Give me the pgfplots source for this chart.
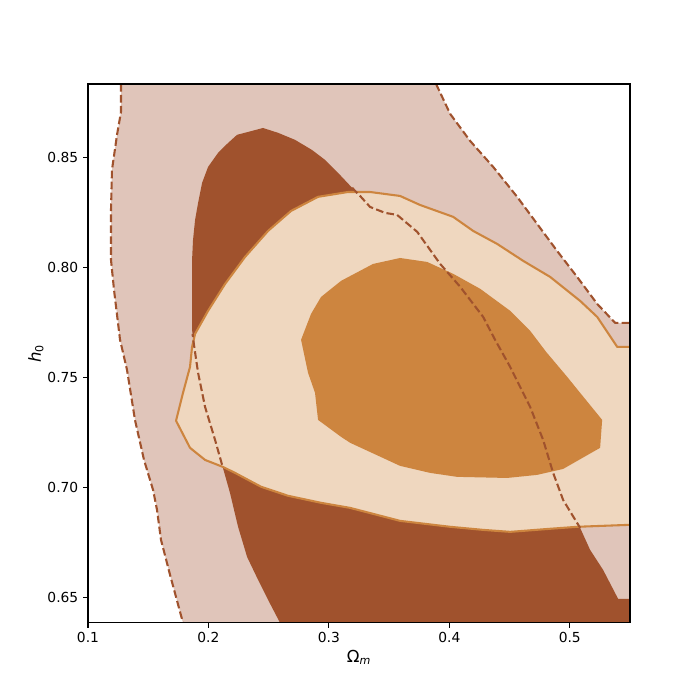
\documentclass[border=0pt]{standalone}
\usepackage{pgfplots}
\pgfplotsset{compat=1.18}
\usepackage{fontspec}
\setmainfont{DejaVu Sans}
\definecolor{sienna}{RGB}{160,82,45}
\definecolor{peru}{RGB}{205,133,63}
\definecolor{lsienna}{RGB}{224,197,186}
\definecolor{lperu}{RGB}{239,215,191}
\begin{document}
\begin{tikzpicture}
\begin{axis}[name=ax,
  scale only axis, width=391.7pt, height=389.5pt,
  xmin=0.1, xmax=0.55, ymin=0.6386, ymax=0.8836,
  axis line style={line width=0.8pt},
  tick align=outside, tick pos=left, major tick length=3.5pt,
  every tick/.style={black, line width=0.8pt},
  xtick={0.1,0.2,0.3,0.4,0.5}, xticklabels={0.1,0.2,0.3,0.4,0.5},
  ytick={0.65,0.70,0.75,0.80,0.85}, yticklabels={0.65,0.70,0.75,0.80,0.85},
  ticklabel style={font=\fontsize{10}{12}\selectfont},
  xlabel={Ω\textsubscript{\itshape m}}, ylabel={{\itshape h}\textsubscript{0}},
  label style={font=\fontsize{12}{14}\selectfont},
  xlabel style={yshift=2pt}, ylabel style={yshift=-4pt},
  clip=true, axis on top=true,
]
% outer brown (2 sigma) fill
\addplot[draw=none, fill=lsienna] coordinates {
(0.1274,0.8836) (0.1274,0.8709) (0.1241,0.8605) (0.1199,0.8445) (0.1191,0.8264)
(0.1191,0.8036) (0.1216,0.7900) (0.1266,0.7673) (0.1324,0.7536) (0.1390,0.7309)
(0.1465,0.7127) (0.1540,0.6991) (0.1573,0.6900) (0.1606,0.6764) (0.1681,0.6605)
(0.1789,0.6386) (0.55,0.6386) (0.55,0.7750) (0.5377,0.7750) (0.5228,0.7836)
(0.5061,0.7959) (0.4895,0.8077) (0.4729,0.8200) (0.4563,0.8323) (0.4364,0.8459)
(0.4173,0.8577) (0.4007,0.8700) (0.3890,0.8836)} -- cycle;
% inner brown (1 sigma) fill
\addplot[draw=none, fill=sienna] coordinates {
(0.2595,0.6386) (0.2495,0.6491) (0.2412,0.6582) (0.2321,0.6686) (0.2246,0.6823)
(0.2179,0.6977) (0.2113,0.7105) (0.2055,0.7218) (0.1972,0.7368) (0.1914,0.7523)
(0.1880,0.7650) (0.1864,0.7718) (0.1864,0.7855) (0.1864,0.8036) (0.1872,0.8127)
(0.1889,0.8218) (0.1914,0.8295) (0.1947,0.8386) (0.1997,0.8459) (0.2080,0.8523)
(0.2163,0.8568) (0.2238,0.8605) (0.2329,0.8618) (0.2453,0.8636) (0.2578,0.8614)
(0.2719,0.8582) (0.2860,0.8536) (0.2968,0.8491) (0.3076,0.8432) (0.3193,0.8364)
(0.3259,0.8327) (0.3342,0.8277) (0.3467,0.8250) (0.3566,0.8241) (0.3733,0.8164)
(0.3924,0.8018) (0.4090,0.7914) (0.4281,0.7777) (0.4380,0.7673) (0.4505,0.7550)
(0.4671,0.7368) (0.4779,0.7218) (0.4862,0.7068) (0.4945,0.6945) (0.5086,0.6818)
(0.5169,0.6718) (0.5277,0.6627) (0.5402,0.6495) (0.55,0.6495) (0.55,0.6386)} -- cycle;
% outer orange (2 sigma) fill
\addplot[draw=none, fill=lperu] coordinates {
(0.1864,0.7641) (0.1889,0.7700) (0.1997,0.7805) (0.2138,0.7927) (0.2304,0.8050)
(0.2495,0.8168) (0.2686,0.8259) (0.2910,0.8323) (0.3159,0.8345) (0.3342,0.8345)
(0.3591,0.8327) (0.3757,0.8286) (0.4032,0.8232) (0.4198,0.8168) (0.4397,0.8109)
(0.4613,0.8032) (0.4837,0.7959) (0.5086,0.7850) (0.5228,0.7777) (0.5394,0.7641)
(0.55,0.7641) (0.55,0.6832) (0.5061,0.6823) (0.4837,0.6814) (0.4505,0.6800)
(0.4281,0.6809) (0.4007,0.6823) (0.3591,0.6850) (0.3176,0.6909) (0.2935,0.6932)
(0.2661,0.6964) (0.2437,0.7005) (0.2221,0.7068) (0.2121,0.7095) (0.1972,0.7127)
(0.1847,0.7182) (0.1731,0.7305) (0.1789,0.7432) (0.1847,0.7550)} -- cycle;
% inner orange (1 sigma) fill
\addplot[draw=none, fill=peru] coordinates {
(0.2769,0.7673) (0.2852,0.7791) (0.2935,0.7868) (0.3101,0.7941) (0.3367,0.8018)
(0.3591,0.8045) (0.3816,0.8027) (0.4032,0.7973) (0.4256,0.7905) (0.4505,0.7805)
(0.4671,0.7714) (0.4804,0.7618) (0.4978,0.7505) (0.5086,0.7432) (0.5269,0.7309)
(0.5252,0.7182) (0.4945,0.7086) (0.4729,0.7059) (0.4480,0.7045) (0.4065,0.7050)
(0.3841,0.7068) (0.3591,0.7100) (0.3176,0.7205) (0.3101,0.7232) (0.2910,0.7309)
(0.2885,0.7432) (0.2827,0.7523)} -- cycle;
% orange outer contour line
\addplot[color=peru, line width=1.5pt, line join=round] coordinates {
(0.55,0.7641) (0.5394,0.7641) (0.5228,0.7777) (0.5086,0.7850) (0.4837,0.7959)
(0.4613,0.8032) (0.4397,0.8109) (0.4198,0.8168) (0.4032,0.8232) (0.3757,0.8286)
(0.3591,0.8327) (0.3342,0.8345) (0.3159,0.8345) (0.2910,0.8323) (0.2686,0.8259)
(0.2495,0.8168) (0.2304,0.8050) (0.2138,0.7927) (0.1997,0.7805) (0.1889,0.7700)
(0.1864,0.7641) (0.1847,0.7550) (0.1789,0.7432) (0.1731,0.7305) (0.1847,0.7182)
(0.1972,0.7127) (0.2121,0.7095) (0.2221,0.7068) (0.2437,0.7005) (0.2661,0.6964)
(0.2935,0.6932) (0.3176,0.6909) (0.3591,0.6850) (0.4007,0.6823) (0.4281,0.6809)
(0.4505,0.6800) (0.4837,0.6814) (0.5061,0.6823) (0.55,0.6832)};
% brown dashed contour lines
\addplot[color=sienna, line width=1.5pt, dash pattern=on 5.5pt off 2.4pt] coordinates {
(0.1274,0.8836) (0.1274,0.8709) (0.1241,0.8605) (0.1199,0.8445) (0.1191,0.8264)
(0.1191,0.8036) (0.1216,0.7900) (0.1266,0.7673) (0.1324,0.7536) (0.1390,0.7309)
(0.1465,0.7127) (0.1540,0.6991) (0.1573,0.6900) (0.1606,0.6764) (0.1681,0.6605)
(0.1789,0.6386)};
\addplot[color=sienna, line width=1.5pt, dash pattern=on 5.5pt off 2.4pt] coordinates {
(0.3890,0.8836) (0.4007,0.8700) (0.4173,0.8577) (0.4364,0.8459) (0.4563,0.8323)
(0.4729,0.8200) (0.4895,0.8077) (0.5061,0.7959) (0.5228,0.7836) (0.5377,0.7750)
(0.55,0.7750)};
% 1 sigma brown contour where it crosses the orange region
\addplot[color=sienna, line width=1.5pt, dash pattern=on 5.5pt off 2.4pt] coordinates {
(0.2113,0.7105) (0.2055,0.7218) (0.1972,0.7368) (0.1914,0.7523) (0.1880,0.7650)
(0.1868,0.7700)};
\addplot[color=sienna, line width=1.5pt, dash pattern=on 5.5pt off 2.4pt] coordinates {
(0.3193,0.8364)
(0.3259,0.8327) (0.3342,0.8277) (0.3467,0.8250) (0.3566,0.8241) (0.3733,0.8164)
(0.3924,0.8018) (0.4090,0.7914) (0.4281,0.7777) (0.4380,0.7673) (0.4505,0.7550)
(0.4671,0.7368) (0.4779,0.7218) (0.4862,0.7068) (0.4945,0.6945) (0.5086,0.6818)};
\end{axis}
\path[use as bounding box] ([xshift=-63.6pt,yshift=-55.6pt]ax.south west) rectangle ([xshift=50.6pt,yshift=60.7pt]ax.north east);
\end{tikzpicture}
\end{document}
